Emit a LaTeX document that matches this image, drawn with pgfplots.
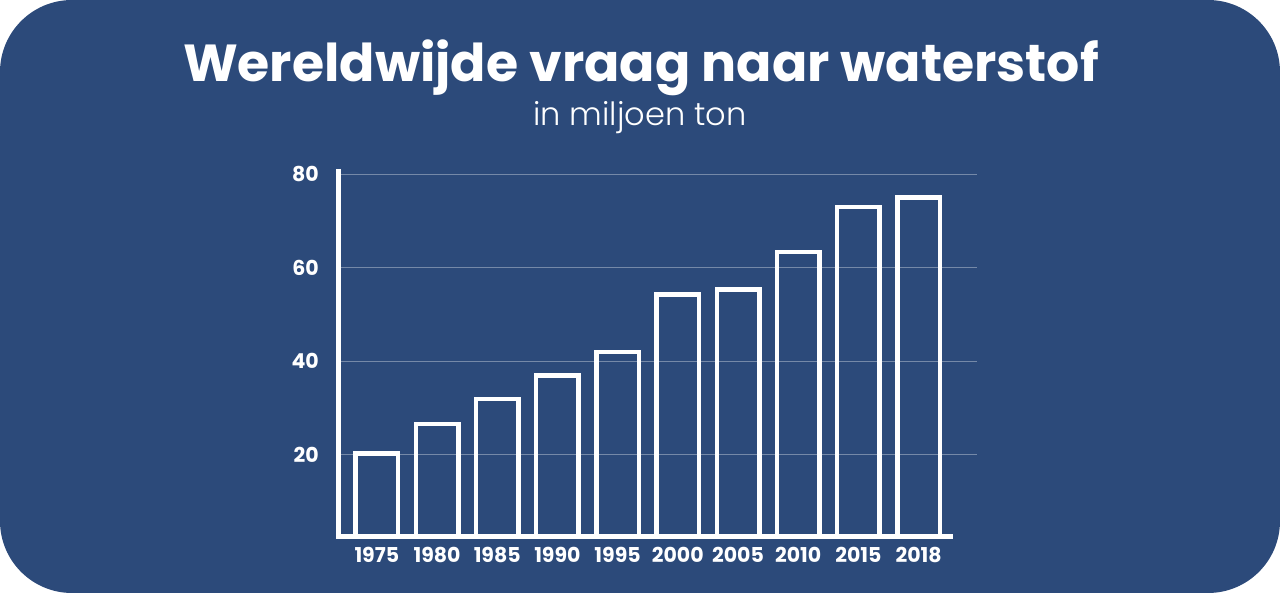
\documentclass[border=0pt]{standalone}
\usepackage{fontspec}
\usepackage{pgfplots}
\pgfplotsset{compat=1.18}
\setmainfont{Poppins}
\newfontfamily\lightfont{Poppins Light}
\definecolor{panel}{RGB}{44,74,122}

\begin{document}
\begin{tikzpicture}[x=1pt,y=1pt]
% rounded panel
\fill[panel, rounded corners=72pt] (0,0) rectangle (1280,593);
% title and subtitle
\node[anchor=base, text=white, inner sep=0pt,
      font=\fontsize{52.1}{58}\selectfont\bfseries] at (641,511.3)
      {Wereldwijde vraag naar waterstof};
\node[anchor=base, text=white, inner sep=0pt,
      font=\lightfont\fontsize{32}{36}\selectfont] at (640,467)
      {in miljoen ton};
\begin{axis}[
  at={(338.3pt,56.7pt)}, anchor=south west,
  scale only axis, width=638.7pt, height=367.5pt,
  xmin=-0.64, xmax=9.97, ymin=2.5, ymax=81.2,
  axis line style={draw=none},
  major tick length=0pt,
  clip mode=individual,
  ymajorgrids,
  grid style={white, opacity=0.35, line width=1pt},
  ytick={20,40,60,80},
  xtick={0,...,9},
  xticklabels={1975,1980,1985,1990,1995,2000,2005,2010,2015,2018},
  /pgf/number format/assume math mode=true,
  ticklabel style={text=white, font=\fontsize{20.5}{22}\selectfont\bfseries, inner sep=0pt},
  yticklabel style={anchor=east, xshift=-19.3pt},
  xticklabel style={anchor=north, yshift=-11pt},
]
\addplot[ybar, bar width=0.706, draw=white, line width=4.5pt, fill=none]
  table {
x y
0 20.2
1 26.5
2 31.9
3 36.9
4 42.0
5 54.3
6 55.3
7 63.4
8 73.0
9 75.0
};
% axis lines
\draw[white, line width=5pt, line join=miter]
  (axis cs:-0.64,81.2) -- (axis cs:-0.64,2.5) -- (axis cs:9.57,2.5);
\end{axis}
\end{tikzpicture}
\end{document}
